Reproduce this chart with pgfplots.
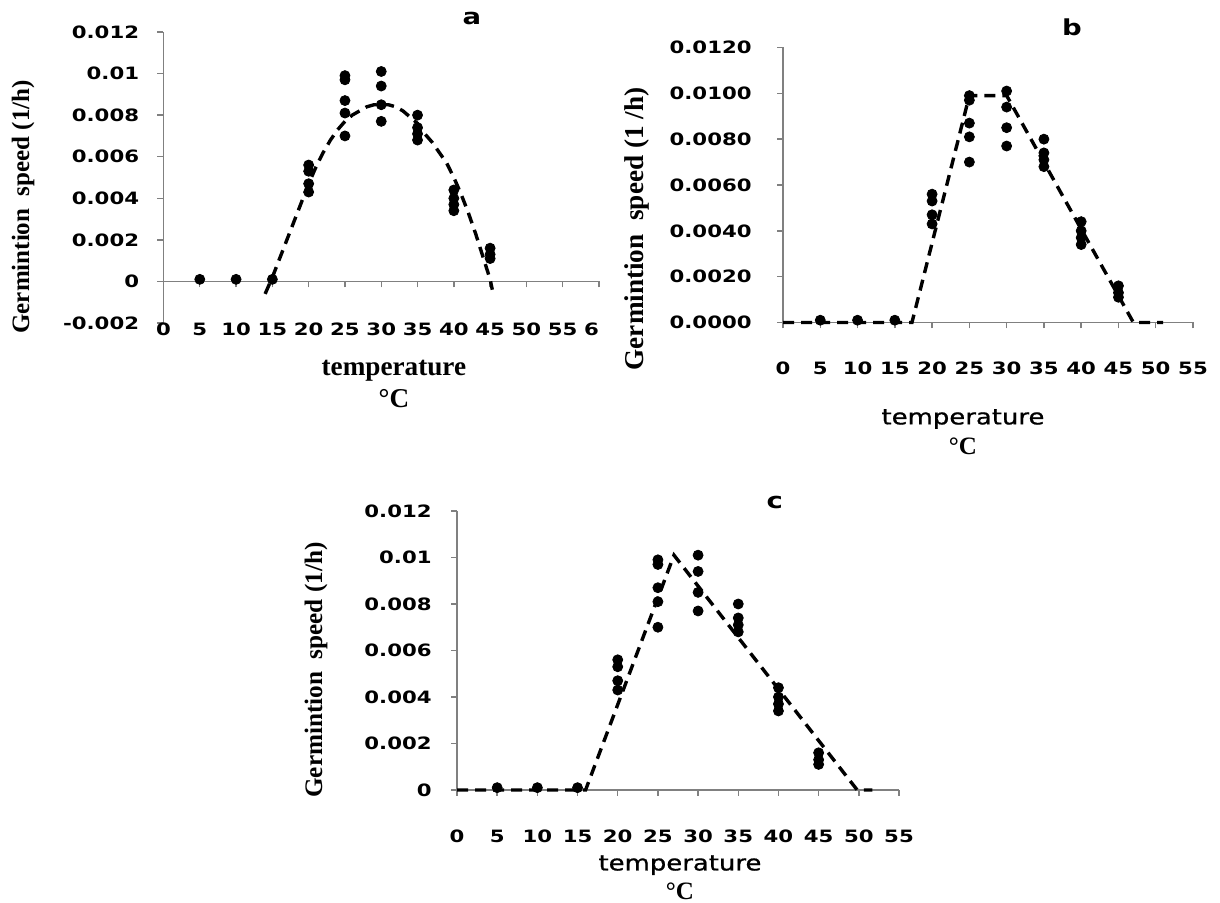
\documentclass[border=0pt]{standalone}
\usepackage{fontspec}
\usepackage{pgfplots}
\usepackage{pgfplotstable}
\pgfplotsset{compat=1.18}
\setmainfont{Liberation Serif}
\newfontfamily\tickfont{DejaVu Sans}[FakeStretch=1.25]
\newfontfamily\labfont{DejaVu Sans}[FakeStretch=1.2, FakeBold=0.8]

\pgfplotstableread{
t v
5 0.0001
10 0.0001
15 0.0001
20 0.0056
20 0.0053
20 0.0047
20 0.0043
25 0.0099
25 0.0097
25 0.0087
25 0.0081
25 0.0070
30 0.0101
30 0.0094
30 0.0085
30 0.0077
35 0.0080
35 0.0074
35 0.0071
35 0.0068
40 0.0044
40 0.0040
40 0.0037
40 0.0034
45 0.0016
45 0.0013
45 0.0011
}\obs

\pgfplotstableread{
t v
14 -0.0006
15 0.0002
16 0.0011
17 0.0020
18 0.0029
19 0.0038
20 0.0047
21 0.0055
22 0.0062
23 0.0068
24 0.0073
25 0.0077
26 0.0080
27 0.0082
28 0.0084
29 0.0085
30 0.0085
31 0.0085
32 0.0084
33 0.0082
34 0.0079
35 0.0076
36 0.0071
37 0.0067
38 0.0062
39 0.0057
40 0.0050
41 0.0042
42 0.0033
43 0.0023
44 0.0012
45 0.0001
45.3 -0.0004
}\fitA

\pgfplotstableread{
t v
0 0
17.3 0
25 0.0099
30 0.0099
47 0
51 0
}\fitB

\pgfplotstableread{
t v
0 0
16 0
27 0.0101
49.8 0
51.7 0
}\fitC

\pgfplotsset{
  panel/.style={
    scale only axis, anchor=south west, clip=false,
    axis y line=left, axis x line=middle,
    hide obscured x ticks=false, hide obscured y ticks=false,
    axis line style={draw=gray, line width=0.7pt, -},
    every tick/.style={draw=gray, line width=0.7pt},
    major tick length=3pt, tick align=outside,
    ticklabel style={font={\fontsize{8.5}{10}\tickfont\bfseries}},
    xticklabel style={anchor=center},
    yticklabel style={anchor=east, inner sep=0pt},
    scaled y ticks=false,
    every axis title shift=0pt,
    title style={font={\fontsize{11}{13}\tickfont\bfseries}, anchor=center},
    ylabel style={anchor=center},
    xlabel style={anchor=center, align=center},
  },
  obsplot/.style={only marks, mark=*, mark size=2.5pt, black},
  fitplot/.style={no marks, black, line width=1.7pt, dash pattern=on 5.5pt off 3.5pt},
}

\begin{document}
\begin{tikzpicture}
\useasboundingbox (0,0) rectangle (610pt,451.5pt);

% ---- panel a ----
\begin{axis}[panel,
  at={(81.75pt,290pt)}, width=217.75pt, height=145.5pt,
  xmin=0, xmax=60, ymin=-0.002, ymax=0.012,
  xtick={0,5,...,60},
  xticklabels={0,5,10,15,20,25,30,35,40,45,50,55,\makebox[0pt][r]{6}},
  ytick={-0.002,0,0.002,0.004,0.006,0.008,0.01,0.012},
  yticklabels={-0.002,0,0.002,0.004,0.006,0.008,0.01,0.012},
  xticklabel style={yshift=-21pt},
  yticklabel shift=9pt,
  title={a},
  title style={at={(axis description cs:0.708,1.048)}},
  ylabel={Germintion\hspace{0.5em}speed (1/h)},
  ylabel style={at={(axis description cs:-0.3226,0.399)}, font={\fontsize{12.5}{14}\selectfont\bfseries}},
  xlabel={temperature\\°C},
  xlabel style={at={(axis description cs:0.529,-0.210)}, font={\fontsize{13.6}{16}\selectfont\bfseries}},
]
\addplot[fitplot] table[x=t,y=v] {\fitA};
\addplot[obsplot] table[x=t,y=v] {\obs};
\end{axis}

% ---- panel b ----
\begin{axis}[panel,
  at={(391.5pt,290.25pt)}, width=205pt, height=137.5pt,
  xmin=0, xmax=55, ymin=0, ymax=0.012,
  xtick={0,5,...,55},
  xticklabels={0,5,10,15,20,25,30,35,40,45,50,55},
  ytick={0,0.002,0.004,0.006,0.008,0.01,0.012},
  yticklabels={0.0000,0.0020,0.0040,0.0060,0.0080,0.0100,0.0120},
  xticklabel style={yshift=-19.75pt},
  yticklabel shift=12.5pt,
  title={b},
  title style={at={(axis description cs:0.705,1.075)}},
  ylabel={Germintion\hspace{0.5em}speed (1 /h)},
  ylabel style={at={(axis description cs:-0.356,0.340)}, font={\fontsize{13.6}{15}\selectfont\bfseries}},
  xlabel={{\labfont\fontsize{10.8}{15}\selectfont temperature}\\{\bfseries °C}},
  xlabel style={at={(axis description cs:0.439,-0.398)}, font={\fontsize{12.5}{15}\selectfont}},
]
\addplot[fitplot] table[x=t,y=v] {\fitB};
\addplot[obsplot] table[x=t,y=v] {\obs};
\end{axis}

% ---- panel c ----
\begin{axis}[panel,
  at={(228.5pt,56.5pt)}, width=221pt, height=139.5pt,
  xmin=0, xmax=55, ymin=0, ymax=0.012,
  xtick={0,5,...,55},
  xticklabels={0,5,10,15,20,25,30,35,40,45,50,55},
  ytick={0,0.002,0.004,0.006,0.008,0.01,0.012},
  yticklabels={0,0.002,0.004,0.006,0.008,0.01,0.012},
  xticklabel style={yshift=-20pt},
  yticklabel shift=9.5pt,
  title={c},
  title style={at={(axis description cs:0.719,1.029)}},
  ylabel={Germintion\hspace{0.5em}speed (1/h)},
  ylabel style={at={(axis description cs:-0.319,0.430)}, font={\fontsize{12.6}{14}\selectfont\bfseries}},
  xlabel={{\labfont\fontsize{10.8}{15}\selectfont temperature}\\{\bfseries °C}},
  xlabel style={at={(axis description cs:0.5045,-0.3136)}, font={\fontsize{12.5}{14.5}\selectfont}},
]
\addplot[fitplot] table[x=t,y=v] {\fitC};
\addplot[obsplot] table[x=t,y=v] {\obs};
\end{axis}
\end{tikzpicture}
\end{document}
